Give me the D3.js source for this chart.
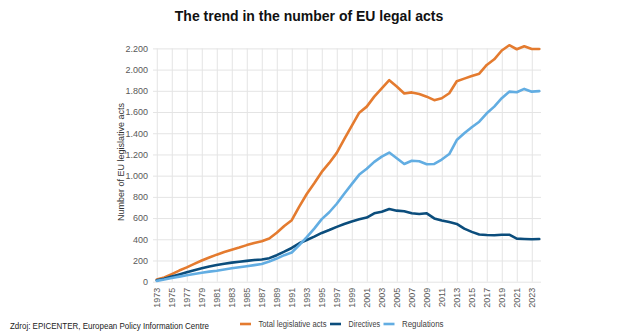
<!DOCTYPE html>
<html><head><meta charset="utf-8">
<script src="https://cdn.jsdelivr.net/npm/d3@7/dist/d3.min.js"></script>
<style>
html,body{margin:0;padding:0;background:#fff;}
svg{display:block;font-family:"Liberation Sans",Arial,sans-serif;}
</style></head>
<body>
<script>
const years = d3.range(1973, 2025);
const total = [20,40,72,105,135,168,200,228,255,280,302,322,345,365,382,408,462,525,580,708,827,928,1035,1120,1215,1345,1470,1594,1651,1745,1824,1900,1840,1775,1785,1770,1745,1712,1730,1777,1890,1915,1940,1962,2044,2097,2180,2230,2192,2220,2195,2195];
const directives = [14,28,48,68,88,108,126,143,158,170,180,188,196,205,210,222,250,283,318,362,393,425,460,487,517,544,568,588,605,645,660,685,670,664,645,638,645,597,578,562,545,500,470,445,440,438,443,443,406,403,400,402];
const regulations = [8,20,35,48,60,72,84,95,104,115,126,136,146,156,167,190,218,250,275,345,420,500,590,655,735,830,920,1010,1065,1130,1179,1218,1164,1110,1140,1136,1108,1110,1152,1204,1336,1399,1456,1509,1588,1651,1730,1792,1786,1818,1792,1797];
const yTicks = [0,200,400,600,800,1000,1200,1400,1600,1800,2000,2200];
const xTicks = d3.range(1973, 2025, 2);
const seriesNames = ["Total legislative acts","Directives","Regulations"];
const seriesColors = ["#E47B2F","#0B4D7C","#62ADE2"];
const title = "The trend in the number of EU legal acts";
const yTitle = "Number of EU legislative acts";
const source = "Zdroj: EPICENTER, European Policy Information Centre";

const W = 636, H = 335;
const svg = d3.select("body").append("svg").attr("width", W).attr("height", H);

const x = d3.scaleLinear().domain([1973, 2024]).range([156.75, 539.25]);
const y = d3.scaleLinear().domain([0, 2200]).range([281.7, 48.4]);
const gridLeft = 153, gridRight = 541;

const loc = d3.formatLocale({decimal: ",", thousands: ".", grouping: [3], currency: ["", ""]});
const fmt = loc.format(",d");

// horizontal grid + y labels
const yAxis = svg.append("g").attr("transform", `translate(${gridLeft},0)`)
  .call(d3.axisLeft(y).tickValues(yTicks).tickFormat(fmt).tickSize(-(gridRight - gridLeft)).tickPadding(5));
yAxis.select(".domain").remove();
yAxis.selectAll(".tick line").attr("stroke", "#e4e4e4").attr("stroke-width", 1);
yAxis.selectAll(".tick text").attr("fill", "#595959").attr("font-size", 9)
  .attr("font-family", "Liberation Sans, Arial, sans-serif");

// vertical grid + x labels
const xAxis = svg.append("g").attr("transform", `translate(0,${y(0)})`)
  .call(d3.axisBottom(x).tickValues(xTicks).tickFormat(d3.format("d")).tickSize(-(y(0) - y(2200))).tickPadding(5));
xAxis.select(".domain").remove();
xAxis.selectAll(".tick line").attr("stroke", "#e4e4e4").attr("stroke-width", 1);
xAxis.selectAll(".tick text").attr("fill", "#595959").attr("font-size", 9)
  .attr("font-family", "Liberation Sans, Arial, sans-serif")
  .attr("text-anchor", "end").attr("dy", "0.35em")
  .attr("transform", "translate(0,0) rotate(-90)").attr("x", -6).attr("y", 0);

// lines
const data = [total, directives, regulations];
const line = d3.line().x((d, i) => x(years[i])).y(d => y(d));
data.forEach((vals, k) => {
  svg.append("path").datum(vals).attr("d", line)
    .attr("fill", "none").attr("stroke", seriesColors[k]).attr("stroke-width", 2.6)
    .attr("stroke-linejoin", "round").attr("stroke-linecap", "round");
});

// title
svg.append("text").attr("x", 309).attr("y", 21).attr("text-anchor", "middle")
  .attr("font-size", 14).attr("font-weight", "bold").attr("fill", "#111").text(title);

// y title
svg.append("text").attr("transform", "translate(124,162) rotate(-90)").attr("text-anchor", "middle")
  .attr("font-size", 9).attr("fill", "#333").text(yTitle);

// legend
const legX = [240, 330, 383.5];
const legTextW = [68, 31.5, 41.5];
const legY = 324;
seriesNames.forEach((n, k) => {
  svg.append("line").attr("x1", legX[k]).attr("x2", legX[k] + 11).attr("y1", legY).attr("y2", legY)
    .attr("stroke", seriesColors[k]).attr("stroke-width", 2.6);
  svg.append("text").attr("x", legX[k] + 18.5).attr("y", legY + 3).attr("font-size", 8.5)
    .attr("fill", "#404040").attr("textLength", legTextW[k]).attr("lengthAdjust", "spacingAndGlyphs").text(n);
});

// source
svg.append("text").attr("x", 10).attr("y", 329).attr("font-size", 8.5).attr("fill", "#222")
  .attr("textLength", 199).attr("lengthAdjust", "spacingAndGlyphs").text(source);
</script>
</body></html>
